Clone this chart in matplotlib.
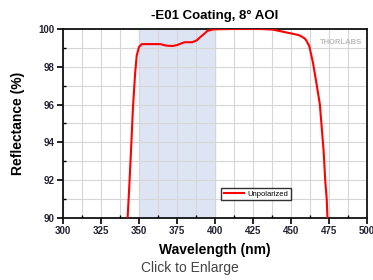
import matplotlib.pyplot as plt
from matplotlib.ticker import MultipleLocator

# curve
wavelength = [342.5, 343.5, 345, 346, 347.4, 348.5, 350, 351.8, 355, 360, 364,
              368, 372, 375, 380, 385, 388, 390, 393, 395, 399, 410, 420,
              430, 438, 445, 451, 455, 457, 459, 460, 462, 464.5, 467, 469,
              470.5, 471.5, 472.5, 473.5, 474]
reflectance = [90, 91.5, 94, 95.8, 97.6, 98.6, 99.05, 99.2, 99.2, 99.2, 99.2,
               99.12, 99.1, 99.15, 99.3, 99.3, 99.4, 99.55, 99.75, 99.9, 99.98, 100, 100,
               100, 99.97, 99.85, 99.75, 99.68, 99.6, 99.5, 99.4, 99.1, 98.2, 97.0, 96.0,
               94.5, 93.5, 92.0, 91.0, 90]

shade = (350, 400)

plt.rcParams['font.family'] = ['Liberation Sans', 'DejaVu Sans']

fig = plt.figure(figsize=(3.73, 2.80), dpi=100)
ax = fig.add_axes([63/373, 1-218/280, 304/373, 189/280])

ax.axvspan(*shade, color='#dde5f4', zorder=0)
ax.plot(wavelength, reflectance, color='#ff0000', lw=1.5, label='Unpolarized', zorder=3)

ax.set_xlim(300, 500)
ax.set_ylim(90, 100)
ax.xaxis.set_major_locator(MultipleLocator(25))
ax.xaxis.set_minor_locator(MultipleLocator(12.5))
ax.yaxis.set_major_locator(MultipleLocator(2))
ax.yaxis.set_minor_locator(MultipleLocator(1))
ax.grid(which='both', color='#d6d6d6', lw=0.8, zorder=1)
ax.set_axisbelow(True)
ax.tick_params(which='major', direction='out', length=4, width=1.2,
               labelsize=7, pad=2)
ax.tick_params(which='minor', direction='in', length=2.5, width=1)
for lab in ax.get_xticklabels() + ax.get_yticklabels():
    lab.set_fontweight('bold')
    lab.set_color('#222233')
for s in ax.spines.values():
    s.set_linewidth(1.3)
    s.set_color('#111111')

ax.set_xlabel('Wavelength (nm)', fontsize=10, fontweight='bold', labelpad=5)
ax.set_ylabel('Reflectance (%)', fontsize=10, fontweight='bold', labelpad=10)
ax.set_title('-E01 Coating, 8° AOI', fontsize=9.5, fontweight='bold', pad=7)

ax.text(0.985, 0.93, 'THORLABS', transform=ax.transAxes, ha='right', va='center',
        fontsize=5.5, fontweight='bold', color='#bbbbbb')

leg = ax.legend(loc='center', bbox_to_anchor=(0.635, 0.127), fontsize=5.5,
                frameon=True, fancybox=False, handlelength=2.6, borderpad=0.35,
                handletextpad=0.5, borderaxespad=0)
leg.get_frame().set_edgecolor('black')
leg.get_frame().set_linewidth(1)

fig.text(190/373, 1-268/280, 'Click to Enlarge', ha='center', va='center',
         fontsize=10, color='#444444')

fig.savefig('out.png', dpi=100)
